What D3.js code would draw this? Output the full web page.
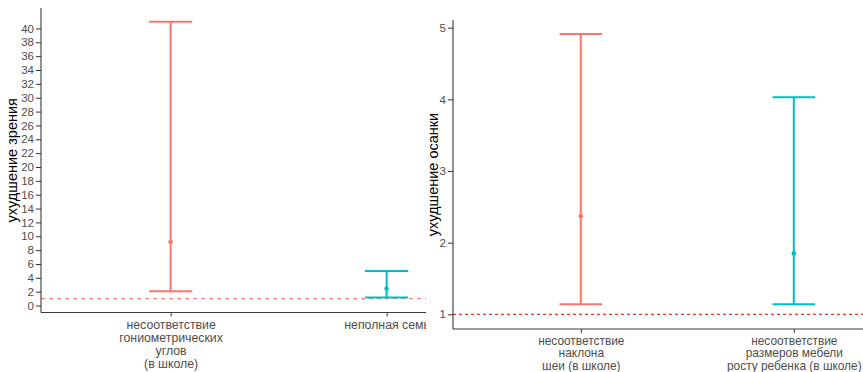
<!DOCTYPE html>
<html>
<head>
<meta charset="utf-8">
<script src="https://cdn.jsdelivr.net/npm/d3@7"></script>
<style>
  body { margin: 0; background: #fff; }
  svg { display: block; font-family: "Liberation Sans", Arial, sans-serif; }
</style>
</head>
<body>
<div id="chart"></div>
<script>
// левая панель: ухудшение зрения
const leftCategories = [["несоответствие", "гониометрических", "углов", "(в школе)"], ["неполная семь"]];
const leftLow = [2.05, 1.18];
const leftMid = [9.2, 2.42];
const leftHigh = [40.95, 5.0];
const leftTicks = d3.range(0, 41, 2);

// правая панель: ухудшение осанки
const rightCategories = [["несоответствие", "наклона", "шеи (в школе)"], ["несоответствие", "размеров мебели", "росту ребенка (в школе)"]];
const rightLow = [1.14, 1.14];
const rightMid = [2.37, 1.85];
const rightHigh = [4.91, 4.03];
const rightTicks = [1, 2, 3, 4, 5];

const colors = ["#F8766D", "#00BFC4"];

const svg = d3.select("#chart").append("svg")
    .attr("width", 863)
    .attr("height", 372);

svg.append("defs").append("clipPath").attr("id", "clipLeft")
    .append("rect").attr("x", 0).attr("y", 0).attr("width", 426).attr("height", 372);

function drawPanel(g, opts) {
    const x = d3.scalePoint()
        .domain(opts.categories.map((d, i) => i))
        .range([opts.x0, opts.x0 + opts.step * 2.2])
        .padding(0.6);

    const y = d3.scaleLinear()
        .domain(opts.yDomain)
        .range([opts.yBottom, opts.yTop]);

    // пунктир на уровне 1
    g.append("line")
        .attr("x1", opts.x0).attr("x2", opts.x0 + opts.step * 2.2)
        .attr("y1", y(1)).attr("y2", y(1))
        .attr("stroke", opts.refColor)
        .attr("stroke-width", opts.refWidth)
        .attr("stroke-dasharray", opts.refDash);

    const capW = opts.step * 0.2;
    const bars = g.selectAll("g.err")
        .data(opts.categories.map((d, i) => i))
        .enter().append("g")
        .attr("class", "err")
        .attr("stroke", i => colors[i])
        .attr("stroke-width", 2);

    bars.append("line")
        .attr("x1", i => x(i)).attr("x2", i => x(i))
        .attr("y1", i => y(opts.low[i])).attr("y2", i => y(opts.high[i]));
    bars.append("line")
        .attr("x1", i => x(i) - capW / 2).attr("x2", i => x(i) + capW / 2)
        .attr("y1", i => y(opts.low[i])).attr("y2", i => y(opts.low[i]));
    bars.append("line")
        .attr("x1", i => x(i) - capW / 2).attr("x2", i => x(i) + capW / 2)
        .attr("y1", i => y(opts.high[i])).attr("y2", i => y(opts.high[i]));
    bars.append("circle")
        .attr("cx", i => x(i))
        .attr("cy", i => y(opts.mid[i]))
        .attr("r", 2.3)
        .attr("fill", i => colors[i])
        .attr("stroke", "none");

    // ось Y
    const yAxis = g.append("g")
        .attr("transform", `translate(${opts.x0},0)`)
        .call(d3.axisLeft(y).tickValues(opts.ticks).tickFormat(d3.format("d"))
            .tickSize(5).tickPadding(2).tickSizeOuter(0));
    yAxis.select(".domain").remove();
    yAxis.append("line")
        .attr("x1", 0).attr("x2", 0)
        .attr("y1", opts.yTop).attr("y2", opts.yBottom)
        .attr("stroke", "#3a3a3a").attr("stroke-width", 1.1);
    yAxis.selectAll(".tick line").attr("stroke", "#333");
    yAxis.selectAll(".tick text")
        .attr("fill", "#4d4d4d")
        .style("font-size", "11.5px");

    // ось X
    const xAxis = g.append("g")
        .attr("transform", `translate(0,${opts.yBottom})`)
        .call(d3.axisBottom(x).tickSize(4).tickFormat(""));
    xAxis.select(".domain").remove();
    xAxis.append("line")
        .attr("x1", opts.x0).attr("x2", opts.x0 + opts.step * 2.2)
        .attr("stroke", "#3a3a3a").attr("stroke-width", 1.1);
    xAxis.selectAll(".tick line").attr("stroke", "#333");

    xAxis.selectAll(".tick").append("text")
        .attr("fill", "#4d4d4d")
        .attr("text-anchor", "middle")
        .style("font-size", opts.labelSize)
        .selectAll("tspan")
        .data(i => opts.categories[i])
        .enter().append("tspan")
        .attr("x", 0)
        .attr("y", (d, j) => opts.labelY + j * opts.lineH)
        .text(d => d);

    g.append("text")
        .attr("transform", `translate(${opts.titleX},${(opts.yTop + opts.yBottom) / 2}) rotate(-90)`)
        .attr("text-anchor", "middle")
        .attr("dy", "0.35em")
        .attr("fill", "#000")
        .style("font-size", "14.5px")
        .text(opts.title);
}

const left = svg.append("g").attr("clip-path", "url(#clipLeft)");
drawPanel(left, {
    categories: leftCategories, low: leftLow, mid: leftMid, high: leftHigh,
    ticks: leftTicks, yDomain: [-1, 42.95], yTop: 8, yBottom: 312.5,
    x0: 41, step: 216, titleX: 12, title: "ухудшение зрения",
    labelY: 16, lineH: 13, labelSize: "12.3px",
    refColor: "#f26b6b", refWidth: 1, refDash: "4,4"
});

const right = svg.append("g");
right.append("rect").attr("x", 426).attr("y", 0).attr("width", 437).attr("height", 372).attr("fill", "#fff");
drawPanel(right, {
    categories: rightCategories, low: rightLow, mid: rightMid, high: rightHigh,
    ticks: rightTicks, yDomain: [0.795, 5.107], yTop: 20, yBottom: 329,
    x0: 453, step: 213, titleX: 433, title: "ухудшение осанки",
    labelY: 15.5, lineH: 12.5, labelSize: "11.9px",
    refColor: "#ff2a2a", refWidth: 1.3, refDash: "3,3"
});
</script>
</body>
</html>
